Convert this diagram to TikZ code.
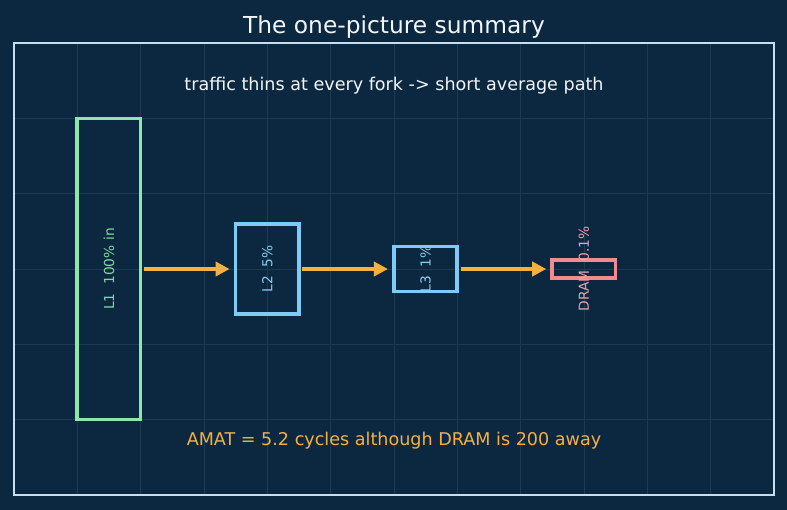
\documentclass[tikz,border=0pt]{standalone}
\usepackage{fontspec}
\setmainfont{DejaVu Sans}
\usetikzlibrary{arrows.meta,positioning}
\definecolor{Night}{HTML}{0B2840}
\definecolor{GridLine}{HTML}{1D3A54}
\definecolor{Frame}{HTML}{C9DDF0}
\definecolor{Paper}{HTML}{F2F6FA}
\definecolor{Mint}{HTML}{8EE6A8}
\definecolor{MintText}{HTML}{82D8A0}
\definecolor{Sky}{HTML}{7FCBF7}
\definecolor{SkyText}{HTML}{8CCDEB}
\definecolor{Rose}{HTML}{F08C8E}
\definecolor{RoseText}{HTML}{E8A2AC}
\definecolor{Amber}{HTML}{F6B040}
\begin{document}
\begin{tikzpicture}[
  x=1.5833cm, y=1.8833cm,
  level/.style={draw, line width=2.6pt, inner sep=0pt, minimum width=1.5833cm},
  tag/.style={rotate=90, font=\fontsize{9.8}{11}\selectfont, inner sep=0pt},
  flow/.style={-{Triangle[length=10pt, width=10pt]}, line width=2.5pt, draw=Amber, shorten <=1pt, shorten >=3pt}
]
% canvas
\fill[Night] (-0.221,-0.199) rectangle (12.206,6.571);
\useasboundingbox (-0.221,-0.199) rectangle (12.206,6.571);
\foreach \gx in {1,...,11} \draw[GridLine, line width=0.5pt] (\gx,0) -- (\gx,6);
\foreach \gy in {1,...,5} \draw[GridLine, line width=0.5pt] (0,\gy) -- (12,\gy);
\draw[Frame, line width=1.6pt] (0,0) rectangle (12,6);

\node[text=Paper, font=\fontsize{16.6}{19}\selectfont] (title) at (6,6.21) {The one-picture summary};
\node[text=Paper, font=\fontsize{12.5}{15}\selectfont] (sub) at (6,5.43) {traffic thins at every fork -> short average path};
\node[text=Amber, font=\fontsize{12.5}{15}\selectfont] (amat) at (6,0.72) {AMAT = 5.2 cycles although DRAM is 200 away};

% cache levels
\node[level, draw=Mint, minimum height=7.533cm] (l1) at (1.5,3) {};
\node[level, draw=Sky, minimum height=2.26cm] (l2) at (4,3) {};
\node[level, draw=Sky, minimum height=1.13cm] (l3) at (6.5,3) {};
\node[level, draw=Rose, minimum height=0.452cm] (dram) at (9,3) {};

\node[tag, text=MintText] (l1t) at (l1.center) {L1\ \ 100\% in};
\node[tag, text=SkyText] (l2t) at (l2.center) {L2\ \ 5\%};
\node[tag, text=SkyText] (l3t) at (l3.center) {L3\ \ 1\%};
\node[tag, text=RoseText] (dramt) at (dram.center) {DRAM\ \ 0.1\%};

\draw[flow] (l1) -- (l2);
\draw[flow] (l2) -- (l3);
\draw[flow] (l3) -- (dram);
\end{tikzpicture}
\end{document}
